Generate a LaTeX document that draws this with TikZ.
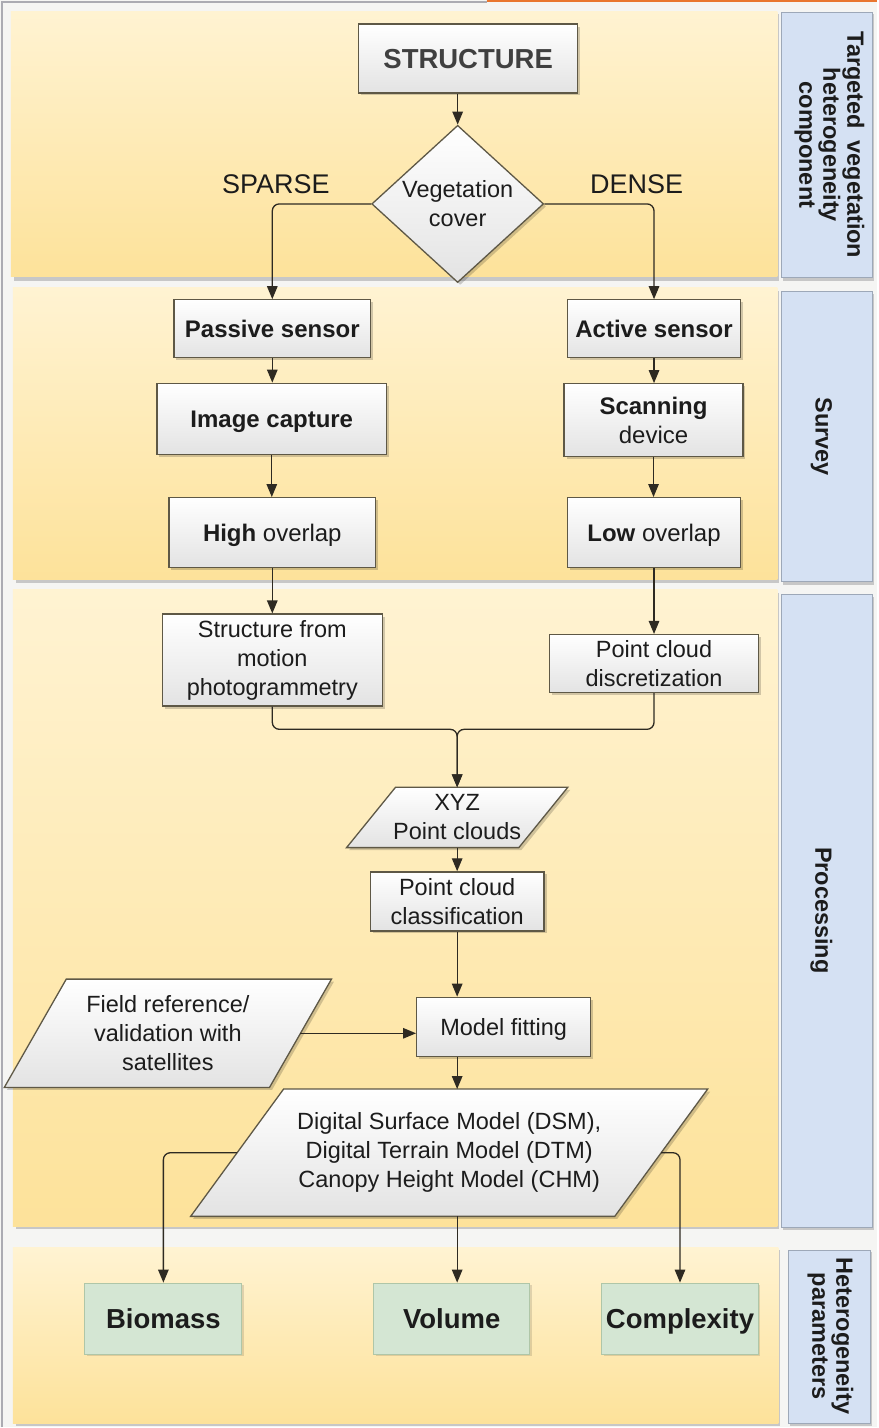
\documentclass[tikz,border=0pt]{standalone}
\usepackage{fontspec}
\setmainfont{Liberation Sans}
\usetikzlibrary{shapes.geometric,arrows.meta,shadows,calc}

\definecolor{bandtop}{HTML}{FFF3D2}
\definecolor{bandbot}{HTML}{FDE29A}
\definecolor{lanefill}{HTML}{D5E1F3}
\definecolor{laneline}{HTML}{9DA8B8}
\definecolor{boxline}{HTML}{5E5846}
\definecolor{wire}{HTML}{2E2A22}
\definecolor{resfill}{HTML}{D4E6D3}
\definecolor{resline}{HTML}{AFC6A8}
\definecolor{framegrey}{HTML}{ABABB2}
\definecolor{pageorange}{HTML}{E9762F}
\definecolor{gapgrey}{HTML}{F5F5F3}
\definecolor{inkc}{HTML}{1C1C1C}

\pgfdeclarelayer{back}
\pgfsetlayers{back,main}

\tikzset{
  regular/.style={font=\fontsize{23.5}{29}\selectfont},
  heavy/.style={font=\bfseries\fontsize{24}{29}\selectfont},
  oneline/.style={text height=19pt, text depth=2pt},
  stepbox/.style={draw=boxline, line width=1.3pt, top color=white, bottom color=black!11,
    align=center, inner sep=0pt, text=inkc,
    drop shadow={shadow xshift=2.5pt, shadow yshift=-2.5pt, fill=black, opacity=0.18}},
  resultbox/.style={draw=resline, line width=1pt, fill=resfill, align=center, inner sep=0pt,
    text=inkc, font=\bfseries\fontsize{27.5}{32}\selectfont, text height=22pt, text depth=2pt,
    drop shadow={shadow xshift=2pt, shadow yshift=-2pt, fill=black, opacity=0.12}},
  paratext/.style={align=center, inner sep=0pt, text=inkc, regular},
  parashape/.style={draw=boxline, line width=1.3pt, top color=white, bottom color=black!11},
  lanelabel/.style={rotate=-90, align=center, text=inkc, font=\bfseries\fontsize{23.5}{24}\selectfont},
  branch/.style={text=inkc, font=\fontsize{27}{30}\selectfont},
  wire/.style={draw=wire, line width=1.3pt, rounded corners=7pt, -{Triangle[length=13pt,width=10.5pt]}},
  band/.style={top color=bandtop, bottom color=bandbot},
  bandshadow/.style={fill=black!22},
  lanebox/.style={fill=lanefill, draw=laneline, line width=0.8pt},
}

% parallelogram outline behind a text node: #1 node name, #2 half of the horizontal slant
\newcommand\paraback[2]{%
  \begin{pgfonlayer}{back}
    \fill[black, opacity=0.18]
      ($(#1.north west)+(#2+2.5,2.5)$) -- ($(#1.north east)+(#2+2.5,2.5)$) --
      ($(#1.south east)+(-#2+2.5,2.5)$) -- ($(#1.south west)+(-#2+2.5,2.5)$) -- cycle;
    \shadedraw[parashape]
      ($(#1.north west)+(#2,0)$) -- ($(#1.north east)+(#2,0)$) --
      ($(#1.south east)+(-#2,0)$) -- ($(#1.south west)+(-#2,0)$) -- cycle;
  \end{pgfonlayer}}

\begin{document}
\begin{tikzpicture}[x=1pt,y=-1pt]

% ---------- page, swimlane bands and lane titles ----------
\begin{pgfonlayer}{back}
  \fill[gapgrey] (0,0) rectangle (878,1428);
  \draw[framegrey, line width=2pt] (2,1428) -- (2,2) -- (487,2);
  \draw[pageorange, line width=2.5pt] (487,1.2) -- (878,1.2);

  \fill[bandshadow] (14,14) rectangle (780,281);
  \shade[band] (11,11) rectangle (778,277);
  \fill[bandshadow] (16,291) rectangle (780,583);
  \shade[band] (13,288) rectangle (778,580);
  \fill[bandshadow] (16,593) rectangle (780,1230);
  \shade[band] (13,590) rectangle (778,1227);
  \fill[bandshadow] (16,1251) rectangle (781,1427);
  \shade[band] (13,1248) rectangle (779,1424);

  \fill[bandshadow] (784,14) rectangle (875,281);
  \filldraw[lanebox] (782,12) rectangle (873,278);
  \fill[bandshadow] (784,294) rectangle (875,585);
  \filldraw[lanebox] (782,292) rectangle (873,582);
  \fill[bandshadow] (784,597) rectangle (875,1231);
  \filldraw[lanebox] (782,595) rectangle (873,1228);
  \fill[bandshadow] (791,1253) rectangle (873,1427);
  \filldraw[lanebox] (789,1251) rectangle (871,1424);
\end{pgfonlayer}

\node[lanelabel] (lane1) at (830,145) {Targeted\enspace vegetation\\heterogeneity\\component};
\node[lanelabel] (lane2) at (822,437) {Survey};
\node[lanelabel] (lane3) at (822,911) {Processing};
\node[lanelabel] (lane4) at (831,1337) {Heterogeneity\\parameters};

% ---------- structure and decision ----------
\node[stepbox, text height=21pt, text depth=2pt, minimum width=219pt, minimum height=69pt, text=black!75,
      font=\bfseries\fontsize{27.5}{30}\selectfont] (structure) at (468.5,58.5) {STRUCTURE};
\node[stepbox, regular, shape=diamond, minimum width=172pt, minimum height=148pt]
      (cover) at (458,204) {Vegetation\\cover};
\node[branch] (sparse) at (276,184) {SPARSE};
\node[branch] (dense) at (637,184) {DENSE};

% ---------- survey ----------
\node[stepbox, heavy, oneline, minimum width=197pt, minimum height=58pt] (passive) at (272.5,329) {Passive sensor};
\node[stepbox, heavy, oneline, minimum width=230pt, minimum height=71pt] (imgcap) at (272,419) {Image capture};
\node[stepbox, heavy, oneline, minimum width=207pt, minimum height=70pt] (high) at (272.5,533)
      {High {\mdseries overlap}};
\node[stepbox, heavy, oneline, minimum width=173pt, minimum height=58pt] (active) at (654.5,329) {Active sensor};
\node[stepbox, heavy, minimum width=179pt, minimum height=73pt] (scan) at (654,420.5)
      {Scanning\\{\mdseries device}};
\node[stepbox, heavy, oneline, minimum width=173pt, minimum height=70pt] (low) at (654.5,533)
      {Low {\mdseries overlap}};

% ---------- processing ----------
\node[stepbox, regular, minimum width=220pt, minimum height=92pt] (sfm) at (272.5,660.5)
      {Structure from\\motion\\photogrammetry};
\node[stepbox, regular, minimum width=209pt, minimum height=58pt] (pcd) at (654.5,664)
      {Point cloud\\discretization};
\node[paratext, minimum width=172pt, minimum height=60pt] (xyz) at (457.5,818) {XYZ\\Point clouds};
\paraback{xyz}{24.5}
\node[stepbox, regular, minimum width=174pt, minimum height=59pt] (pcc) at (457.5,902)
      {Point cloud\\classification};
\node[stepbox, regular, oneline, minimum width=174pt, minimum height=59pt] (mf) at (504,1027.5) {Model fitting};
\node[paratext, minimum width=265pt, minimum height=108pt] (field) at (168,1034)
      {Field reference/\\validation with\\satellites};
\paraback{field}{31}
\node[paratext, minimum width=424pt, minimum height=127pt] (dsm) at (449.5,1153.5)
      {Digital Surface Model (DSM),\\Digital Terrain Model (DTM)\\Canopy Height Model (CHM)};
\paraback{dsm}{46.5}

% ---------- heterogeneity parameters ----------
\node[resultbox, minimum width=157pt, minimum height=71pt] (biomass) at (163.5,1319.5) {Biomass};
\node[resultbox, minimum width=156pt, minimum height=71pt] (volume) at (452,1319.5) {Volume};
\node[resultbox, minimum width=157pt, minimum height=71pt] (complexity) at (680.5,1319.5) {Complexity};

% ---------- connectors ----------
\draw[wire] (cover.north |- structure.south) -- (cover.north);
\draw[wire] (cover.west) -| (passive.north);
\draw[wire] (cover.east) -| (active.north);

\draw[wire] (passive.south) -- (passive.south |- imgcap.north);
\draw[wire] (imgcap.south) -- (imgcap.south |- high.north);
\draw[wire] (high.south) -- (high.south |- sfm.north);
\draw[wire] (active.south) -- (active.south |- scan.north);
\draw[wire] (scan.south) -- (scan.south |- low.north);
\draw[wire] (low.south) -- (low.south |- pcd.north);

\coordinate (join) at ($(xyz.north)+(0,-58)$);
\draw[wire] (sfm.south) |- (join) -- (xyz.north);
\draw[wire] (pcd.south) |- (join) -- (xyz.north);

\draw[wire] (xyz.south) -- (pcc.north);
\draw[wire] (pcc.south) -- (pcc.south |- mf.north);
\draw[wire] (field.east) -- (field.east -| mf.west);
\draw[wire] (mf.south -| pcc.south) -- (pcc.south |- dsm.north);

\draw[wire] (dsm.west) -| (biomass.north);
\draw[wire] (dsm.east) -| (complexity.north);
\draw[wire] (pcc.south |- dsm.south) -- (pcc.south |- volume.north);

\end{tikzpicture}
\end{document}
